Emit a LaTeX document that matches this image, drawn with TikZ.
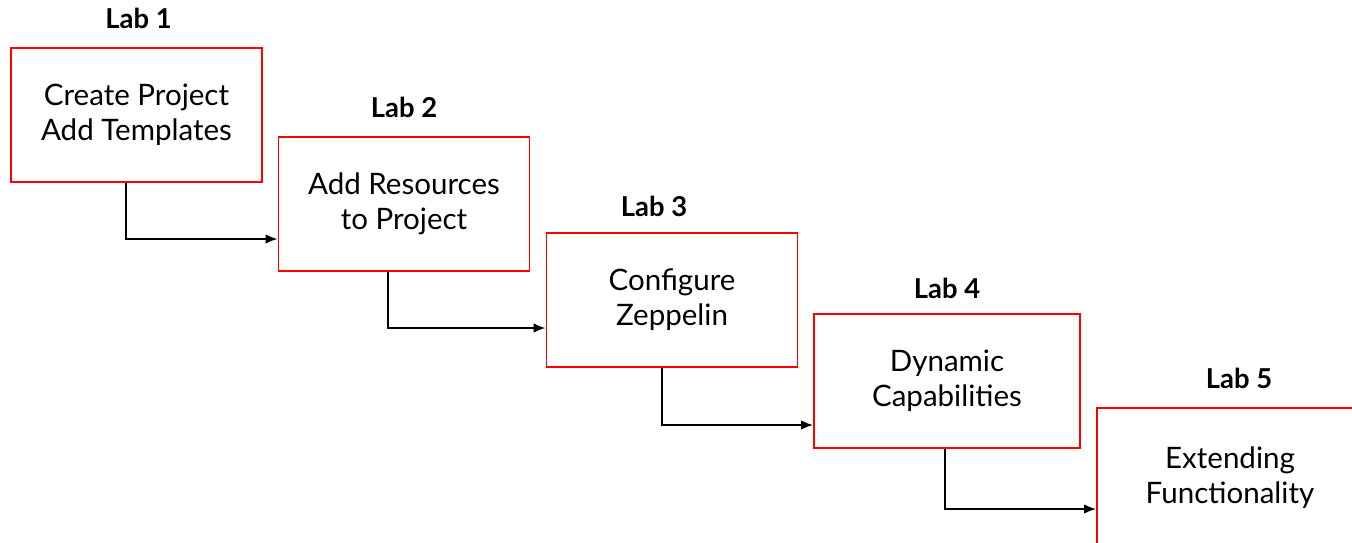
\documentclass[tikz,border=0pt]{standalone}
\usepackage{fontspec}
\usepackage{tikz}
\usepackage{xcolor}
\usetikzlibrary{arrows.meta}
\setmainfont{Lato}

\tikzset{
  labbox/.style={draw=red, line width=1.1pt, minimum width=5.02cm, minimum height=2.68cm,
                 align=center, font=\fontsize{16.8}{19.9}\selectfont},
  labtitle/.style={font=\fontsize{15.6}{18}\selectfont\bfseries},
  flow/.style={-{Latex[length=2.4mm,width=1.9mm]}, line width=0.95pt}
}

\begin{document}
\begin{tikzpicture}

% Area del disegno
\useasboundingbox (0,0) rectangle (27.04,-10.84);
\clip (0,0) rectangle (27.04,-10.84);

% Riquadri dei lab
\node[labbox] (create) at (2.73,-2.30) {Create Project\\Add Templates};
\node[labbox] (resources) at (8.08,-4.08) {Add Resources\\to Project};
\node[labbox] (zeppelin) at (13.44,-6.00) {Configure\\Zeppelin};
\node[labbox, minimum width=5.32cm] (dynamic) at (18.94,-7.62) {Dynamic\\Capabilities};
\node[labbox, minimum width=5.32cm, minimum height=2.78cm] (extending) at (24.60,-9.55) {Extending\\Functionality};

% Titoli
\node[labtitle] (lab1) at (2.77,-0.36) {Lab 1};
\node[labtitle] (lab2) at (8.08,-2.14) {Lab 2};
\node[labtitle] (lab3) at (13.08,-4.12) {Lab 3};
\node[labtitle] (lab4) at (18.94,-5.76) {Lab 4};
\node[labtitle] (lab5) at (24.78,-7.56) {Lab 5};

% Frecce
\draw[flow] ([xshift=-0.21cm]create.south) |- ([yshift=-0.70cm]resources.west);
\draw[flow] ([xshift=-0.32cm]resources.south) |- ([yshift=-0.56cm]zeppelin.west);
\draw[flow] ([xshift=-0.20cm]zeppelin.south) |- ([yshift=-0.88cm]dynamic.west);
\draw[flow] ([xshift=-0.04cm]dynamic.south) |- ([yshift=-0.63cm]extending.west);
\end{tikzpicture}
\end{document}
